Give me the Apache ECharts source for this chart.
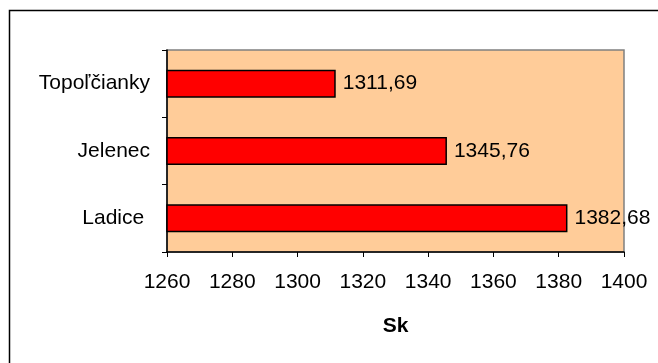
<!DOCTYPE html>
<html>
<head>
<meta charset="utf-8">
<script src="https://cdn.jsdelivr.net/npm/echarts@6/dist/echarts.min.js"></script>
<style>
  html, body { margin: 0; padding: 0; background: #fff; }
  #chart { width: 658px; height: 363px; }
</style>
</head>
<body>
<div id="chart"></div>
<script>
// Categories listed bottom to top (category y axis grows upward)
const categories = ['Ladice ', 'Jelenec', 'Topoľčianky'];
const prices = [1382.68, 1345.76, 1311.69];
const xTicks = [1260, 1280, 1300, 1320, 1340, 1360, 1380, 1400];
const unitLabel = 'Sk';

const FONT = '"Liberation Sans", Arial, sans-serif';
const FS = 21;

const chart = echarts.init(document.getElementById('chart'), null, { renderer: 'canvas' });

chart.setOption({
  animation: false,
  backgroundColor: '#ffffff',
  textStyle: { fontFamily: FONT },
  graphic: [{
    type: 'rect',
    z: 100,
    silent: true,
    shape: { x: 9.5, y: 10.5, width: 700, height: 400 },
    style: { fill: 'none', stroke: '#000', lineWidth: 1.5 }
  }],
  grid: {
    left: 167, top: 50, right: 34, bottom: 111,
    show: true,
    backgroundColor: '#FFCC99',
    borderColor: '#808080',
    borderWidth: 1.5
  },
  xAxis: {
    type: 'value',
    min: xTicks[0],
    max: xTicks[xTicks.length - 1],
    interval: xTicks[1] - xTicks[0],
    name: unitLabel,
    nameLocation: 'middle',
    nameGap: 64,
    nameTextStyle: { fontSize: FS, fontWeight: 'bold', color: '#000', fontFamily: FONT },
    axisLine: { show: true, lineStyle: { color: '#000', width: 1.5 } },
    axisTick: { show: true, length: 5, lineStyle: { color: '#000' } },
    axisLabel: {
      fontSize: FS, color: '#000', margin: 20, fontFamily: FONT,
      formatter: v => String(v)
    },
    splitLine: { show: false }
  },
  yAxis: {
    type: 'category',
    data: categories,
    axisLine: { show: true, lineStyle: { color: '#000', width: 1.5 } },
    axisTick: { show: true, length: 5, lineStyle: { color: '#000' } },
    axisLabel: { fontSize: FS, color: '#000', margin: 17, fontFamily: FONT },
    splitLine: { show: false }
  },
  series: [{
    type: 'bar',
    data: prices,
    barWidth: 28,
    itemStyle: { color: '#FF0000', borderColor: '#000', borderWidth: 1.5 },
    label: {
      show: true,
      position: 'right',
      distance: 7,
      fontSize: FS,
      color: '#000',
      fontFamily: FONT,
      formatter: p => p.value.toFixed(2).replace('.', ',')
    }
  }]
});
</script>
</body>
</html>
